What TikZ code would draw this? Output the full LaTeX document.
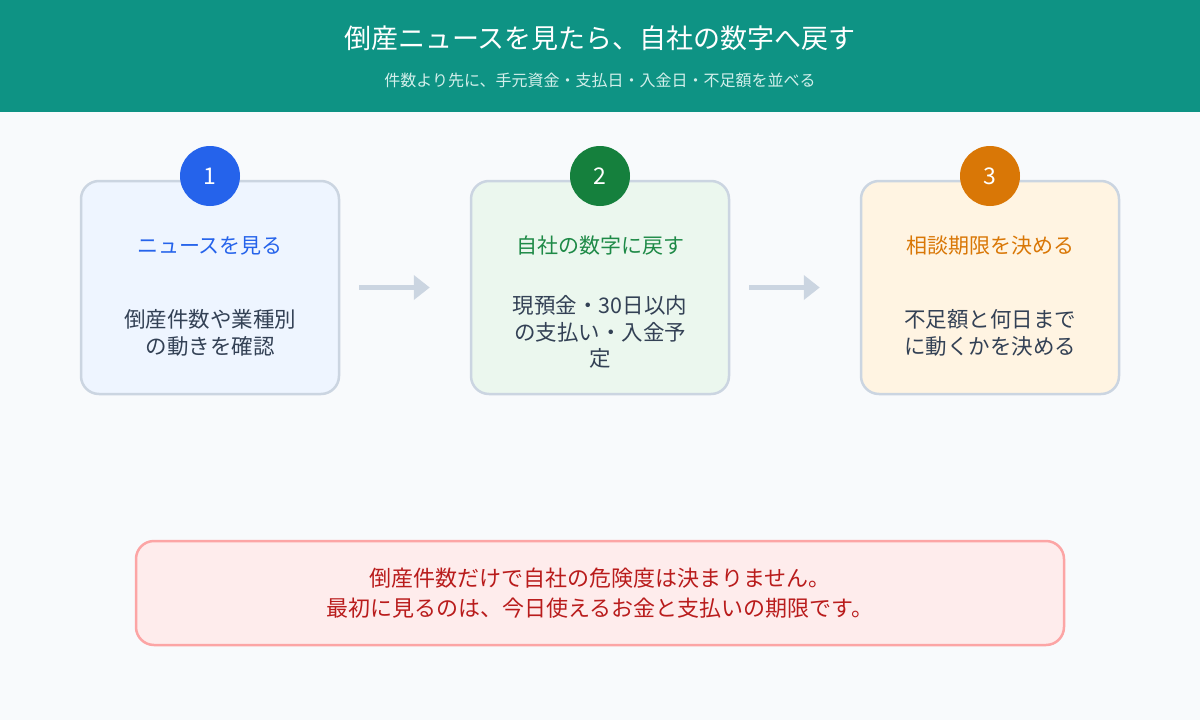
\documentclass[tikz,border=0pt]{standalone}
\usepackage{fontspec}
\setmainfont{Noto Sans CJK JP}
\usetikzlibrary{arrows.meta}
\definecolor{headbg}{HTML}{0E9384}
\definecolor{pagebg}{HTML}{F8FAFC}
\definecolor{cardline}{HTML}{CBD5E1}
\definecolor{bodytxt}{HTML}{334155}
\definecolor{blueA}{HTML}{2563EB}
\definecolor{blueB}{HTML}{EEF5FF}
\definecolor{greenA}{HTML}{15803D}
\definecolor{greenT}{HTML}{1E8A47}
\definecolor{greenB}{HTML}{EBF7EE}
\definecolor{orangeA}{HTML}{D97706}
\definecolor{orangeB}{HTML}{FFF4E2}
\definecolor{noteline}{HTML}{FCA5A5}
\definecolor{notebg}{HTML}{FEECEC}
\definecolor{notetxt}{HTML}{B91C1C}
\definecolor{subtxt}{HTML}{D3EFEB}
\tikzset{
  card/.style={draw=cardline, line width=2.5pt, rounded corners=18pt,
    minimum width=258pt, minimum height=213pt},
  badge/.style={circle, minimum size=60pt, text=white,
    font=\fontsize{23}{26}\selectfont},
  cardtitle/.style={font=\fontsize{21}{24}\selectfont},
  cardbody/.style={align=center, text=bodytxt, font=\fontsize{21.5}{26.5}\selectfont},
  flow/.style={draw=cardline, line width=5pt, -{Triangle[length=16pt, width=24pt]},
    shorten <=19pt, shorten >=40pt}
}
\begin{document}
\begin{tikzpicture}[x=1pt, y=-1pt]
    \useasboundingbox (0,0) rectangle (1200,720);
    \fill[pagebg] (0,0) rectangle (1200,720);
    % Header
    \fill[headbg] (0,0) rectangle (1200,112);
    \node[text=white, font=\fontsize{27}{30}\selectfont] (title) at (600,38) {倒産ニュースを見たら、自社の数字へ戻す};
    \node[text=subtxt, font=\fontsize{16}{18}\selectfont] (subtitle) at (600,80) {件数より先に、手元資金・支払日・入金日・不足額を並べる};
    % Cards
    \node[card, fill=blueB]   (c1) at (210,287.5) {};
    \node[card, fill=greenB]  (c2) at (600,287.5) {};
    \node[card, fill=orangeB] (c3) at (990,287.5) {};
    % Badges
    \node[badge, fill=blueA]   (n1) at (210,176) {1};
    \node[badge, fill=greenA]  (n2) at (600,176) {2};
    \node[badge, fill=orangeA] (n3) at (990,176) {3};
    % Card texts
    \node[cardtitle, text=blueA]   (t1) at (210,246) {ニュースを見る};
    \node[cardtitle, text=greenT]  (t2) at (600,246) {自社の数字に戻す};
    \node[cardtitle, text=orangeA] (t3) at (990,246) {相談期限を決める};
    \node[cardbody] (b1) at (210,333) {倒産件数や業種別\\の動きを確認};
    \node[cardbody] (b2) at (600,332) {現預金・30日以内\\の支払い・入金予\\定};
    \node[cardbody] (b3) at (990,333) {不足額と何日まで\\に動くかを決める};
    % Arrows between the cards
    \draw[flow] (c1) -- (c2);
    \draw[flow] (c2) -- (c3);
    % Note
    \node[draw=noteline, fill=notebg, line width=2.5pt, rounded corners=18pt,
      minimum width=928pt, minimum height=104pt, align=center, text=notetxt,
      font=\fontsize{22}{30}\selectfont] (note) at (600,593)
      {倒産件数だけで自社の危険度は決まりません。\\最初に見るのは、今日使えるお金と支払いの期限です。};
\end{tikzpicture}
\end{document}
